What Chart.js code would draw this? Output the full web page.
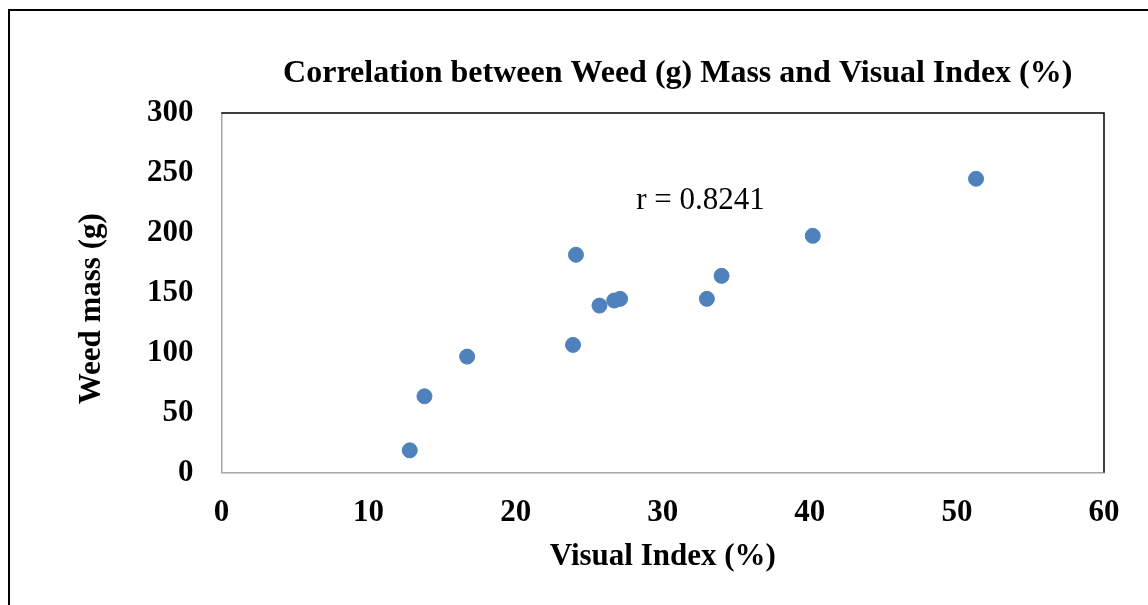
<!DOCTYPE html>
<html>
<head>
<meta charset="utf-8">
<script src="https://cdn.jsdelivr.net/npm/chart.js@4.4.0/dist/chart.umd.min.js"></script>
<style>
    html, body { margin: 0; padding: 0; background: #ffffff; }
    #wrap { position: relative; width: 1148px; height: 605px; }
</style>
</head>
<body>
<div id="wrap"><canvas id="myChart"></canvas></div>
<script>
    // values
    const visualIndex = [12.8, 13.8, 16.7, 23.9, 24.1, 25.7, 26.7, 27.1, 33.0, 34.0, 40.2, 51.3];
    const weedMass = [18.5, 63.6, 96.7, 106.5, 181.7, 139.3, 143.5, 144.9, 144.9, 164.1, 197.5, 245.1];

    const chartTitle = 'Correlation between Weed (g) Mass and Visual Index (%)';
    const xTitle = 'Visual Index (%)';
    const yTitle = 'Weed mass (g)';
    const rLabel = 'r = 0.8241';
    const rAt = [28.2, 226.8];   // x, y in data units

    const serif = '"Liberation Serif", "Times New Roman", serif';

    const points = visualIndex.map((v, i) => ({x: v, y: weedMass[i]}));

    const extras = {
        id: 'extras',
        beforeDraw(chart) {
            const ctx = chart.ctx;
            ctx.save();
            // outer frame (top and left edges only are visible)
            ctx.strokeStyle = '#000000';
            ctx.lineWidth = 2;
            ctx.beginPath();
            ctx.moveTo(9, chart.height);
            ctx.lineTo(9, 10);
            ctx.lineTo(chart.width, 10);
            ctx.stroke();
            ctx.restore();
        },
        afterDraw(chart) {
            const ctx = chart.ctx;
            const area = chart.chartArea;
            ctx.save();
            // plot border, top and right in black
            ctx.strokeStyle = '#000000';
            ctx.lineWidth = 1.5;
            ctx.beginPath();
            ctx.moveTo(area.left, area.top);
            ctx.lineTo(area.right, area.top);
            ctx.lineTo(area.right, area.bottom);
            ctx.stroke();

            ctx.fillStyle = '#000000';
            ctx.textBaseline = 'middle';

            // title
            ctx.font = 'bold 32px ' + serif;
            ctx.textAlign = 'center';
            ctx.fillText(chartTitle, (area.left + area.right) / 2 + 15, 74);

            // y axis title
            ctx.font = 'bold 31px ' + serif;
            ctx.save();
            ctx.translate(92, (area.top + area.bottom) / 2 + 16);
            ctx.rotate(-Math.PI / 2);
            ctx.fillText(yTitle, 0, 0);
            ctx.restore();

            // correlation note
            ctx.font = '31px ' + serif;
            ctx.textAlign = 'left';
            ctx.fillText(rLabel, chart.scales.x.getPixelForValue(rAt[0]), chart.scales.y.getPixelForValue(rAt[1]));
            ctx.restore();
        }
    };

    new Chart(document.getElementById('myChart'), {
        type: 'scatter',
        data: {
            datasets: [{
                label: 'Weed mass',
                data: points,
                backgroundColor: '#4F81BD',
                borderColor: '#4F81BD',
                pointRadius: 7.5,
                pointHoverRadius: 7.5
            }]
        },
        options: {
            responsive: true,
            maintainAspectRatio: false,
            animation: false,
            layout: {padding: {top: 113, right: 44, left: 0, bottom: 0}},
            plugins: {
                legend: {display: false},
                title: {display: false},
                tooltip: {enabled: false}
            },
            scales: {
                x: {
                    type: 'linear',
                    min: 0,
                    max: 60,
                    ticks: {
                        stepSize: 10,
                        padding: 22,
                        color: '#000000',
                        font: {family: serif, size: 31, weight: 'bold'}
                    },
                    grid: {display: false, drawTicks: false},
                    border: {color: '#a6a6a6', width: 1.5},
                    title: {
                        display: true,
                        text: xTitle,
                        color: '#000000',
                        padding: {top: 0, bottom: 29},
                        font: {family: serif, size: 31, weight: 'bold'}
                    },
                    afterFit(scale) {
                        scale.height = 132.5;
                    }
                },
                y: {
                    min: 0,
                    max: 300,
                    ticks: {
                        stepSize: 50,
                        padding: 28,
                        color: '#000000',
                        font: {family: serif, size: 31, weight: 'bold'}
                    },
                    grid: {display: false, drawTicks: false},
                    border: {color: '#a6a6a6', width: 1.5},
                    afterFit(scale) {
                        scale.width = 221.5;
                    }
                }
            }
        },
        plugins: [extras]
    });
</script>
</body>
</html>
